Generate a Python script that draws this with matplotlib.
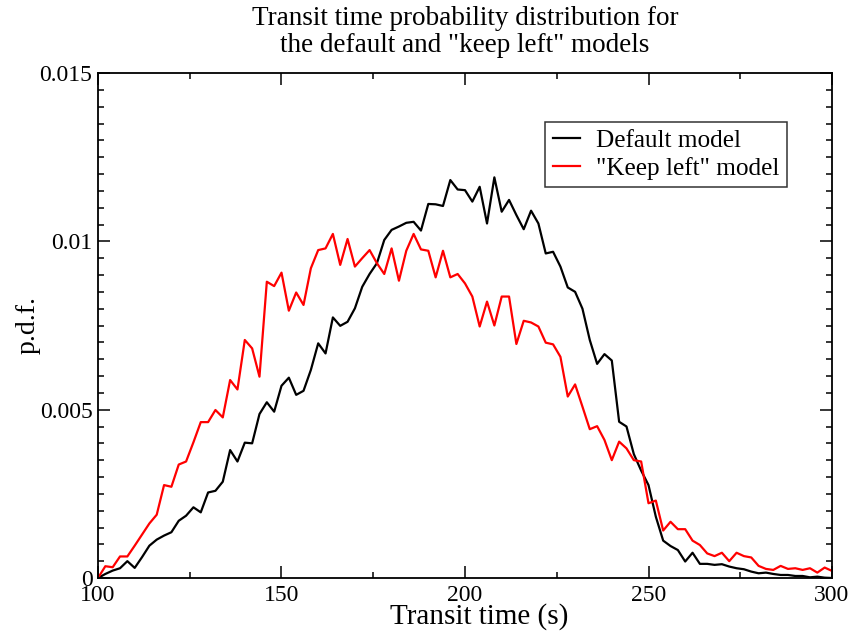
import numpy as np
import matplotlib
matplotlib.use('Agg')
import matplotlib.pyplot as plt
from matplotlib.ticker import MultipleLocator

plt.rcParams['font.family'] = ['Liberation Serif', 'DejaVu Serif']

# transit time grid (s), sampled every 2 s
t = np.arange(100, 301, 2)

default_pdf = [0, 0.00012, 0.00022, 0.00029, 0.00050, 0.00030, 0.00062, 0.00096, 0.00114, 0.00126,
               0.00136, 0.00170, 0.00185, 0.00210, 0.00195, 0.00254, 0.00259, 0.00286, 0.00380, 0.00346,
               0.00402, 0.00400, 0.00487, 0.00522, 0.00494, 0.00571, 0.00595, 0.00544, 0.00556, 0.00618,
               0.00697, 0.00667, 0.00774, 0.00749, 0.00761, 0.00801, 0.00865, 0.00903, 0.00935, 0.01004,
               0.01034, 0.01044, 0.01055, 0.01058, 0.01032, 0.01111, 0.01110, 0.01105, 0.01182, 0.01154,
               0.01152, 0.01118, 0.01162, 0.01053, 0.01190, 0.01088, 0.01123, 0.01078, 0.01036, 0.01091,
               0.01053, 0.00964, 0.00969, 0.00925, 0.00863, 0.00850, 0.00800, 0.00707, 0.00636, 0.00665,
               0.00646, 0.00464, 0.00450, 0.00368, 0.00319, 0.00276, 0.00182, 0.00111, 0.00095, 0.00083,
               0.00049, 0.00075, 0.00042, 0.00042, 0.00039, 0.00041, 0.00034, 0.00029, 0.00026, 0.00019,
               0.00014, 0.00016, 0.00012, 0.00009, 0.00009, 0.00006, 0.00006, 0.00002, 0.00004, 0.00001,
               0.0]

keepleft_pdf = [0, 0.00035, 0.00032, 0.00064, 0.00064, 0.00096, 0.00129, 0.00162, 0.00188, 0.00276,
                0.00271, 0.00337, 0.00346, 0.00403, 0.00463, 0.00463, 0.00499, 0.00477, 0.00588, 0.00560,
                0.00707, 0.00682, 0.00598, 0.00880, 0.00867, 0.00907, 0.00794, 0.00848, 0.00811, 0.00920,
                0.00974, 0.00979, 0.01022, 0.00930, 0.01007, 0.00925, 0.00950, 0.00974, 0.00935, 0.00903,
                0.00979, 0.00883, 0.00972, 0.01022, 0.00976, 0.00972, 0.00893, 0.00972, 0.00893, 0.00903,
                0.00875, 0.00836, 0.00747, 0.00821, 0.00750, 0.00836, 0.00836, 0.00695, 0.00764, 0.00759,
                0.00747, 0.00699, 0.00694, 0.00657, 0.00539, 0.00575, 0.00509, 0.00442, 0.00451, 0.00410,
                0.00350, 0.00405, 0.00385, 0.00350, 0.00346, 0.00222, 0.00230, 0.00141, 0.00167, 0.00145,
                0.00145, 0.00111, 0.00098, 0.00073, 0.00065, 0.00075, 0.00050, 0.00075, 0.00065, 0.00061,
                0.00036, 0.00027, 0.00024, 0.00036, 0.00027, 0.00029, 0.00024, 0.00029, 0.00016, 0.00031,
                0.00021]

labels = ['Default model', '"Keep left" model']
xticks = [100, 150, 200, 250, 300]
yticks = [0, 0.005, 0.01, 0.015]
ytick_labels = ['0', '0.005', '0.01', '0.015']

fig = plt.figure(figsize=(8.53, 6.37), dpi=100)
ax = fig.add_axes([98/853, 1 - 578/637, (832 - 98)/853, (578 - 73)/637])

ax.plot(t, default_pdf, color='black', lw=1.6, label=labels[0])
ax.plot(t, keepleft_pdf, color='red', lw=1.6, label=labels[1])

ax.set_xlim(100, 300)
ax.set_ylim(0, 0.015)
ax.set_xticks(xticks)
ax.set_xticklabels([str(v) for v in xticks])
ax.set_yticks(yticks)
ax.set_yticklabels(ytick_labels)
ax.xaxis.set_minor_locator(MultipleLocator(25))
ax.yaxis.set_minor_locator(MultipleLocator(0.0005))

# grace-style ticks: inward on every side
ax.tick_params(which='both', direction='in', top=True, right=True, labelsize=17, width=1.1)
ax.tick_params(which='major', length=8.5)
ax.tick_params(which='minor', length=4.5)
ax.tick_params(axis='x', pad=5)
ax.tick_params(axis='y', pad=4)
for s in ax.spines.values():
    s.set_linewidth(1.3)

ax.set_xlabel('Transit time (s)', fontsize=21)
ax.xaxis.set_label_coords(0.52, -0.049)
ax.set_ylabel('p.d.f.', fontsize=20)
ax.yaxis.set_label_coords(-0.095, 0.5)
ax.yaxis.label.set_va('center')
ax.set_title('Transit time probability distribution for\nthe default and "keep left" models',
             fontsize=19.5, pad=15, linespacing=1.12)

leg = ax.legend(loc='upper left', bbox_to_anchor=(0.609, 0.903), fontsize=18.2,
                frameon=True, fancybox=False, edgecolor='black', handlelength=1.1,
                handletextpad=0.6, borderpad=0.3, labelspacing=0.18, borderaxespad=0)
leg.get_frame().set_linewidth(1.1)

fig.savefig('out.png', dpi=100)
